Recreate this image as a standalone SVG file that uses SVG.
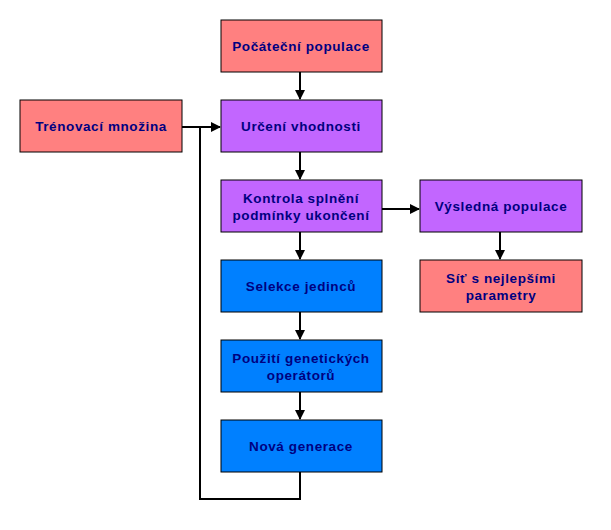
<svg xmlns="http://www.w3.org/2000/svg" width="611" height="530" viewBox="0 0 611 530">
<style>
.box{stroke:#000;stroke-width:1}
.pink{fill:#FF8080}
.purple{fill:#C266FF}
.blue{fill:#0080FF}
text{font-family:"Liberation Sans",Arial,sans-serif;font-weight:bold;font-size:13.5px;letter-spacing:0.6px;fill:#000080;text-anchor:middle}
.c{fill:none;stroke:#000;stroke-width:2}
</style>
<defs>
<marker id="ah" markerWidth="10" markerHeight="10" refX="9" refY="5" orient="auto" markerUnits="userSpaceOnUse">
<path d="M0,0 L10,5 L0,10 Z" fill="#000"/>
</marker>
</defs>
<rect width="611" height="530" fill="#fff"/>
<g id="connectors">
<line class="c" x1="300" y1="72" x2="300" y2="99" marker-end="url(#ah)"/>
<line class="c" x1="182" y1="127" x2="220" y2="127" marker-end="url(#ah)"/>
<line class="c" x1="300" y1="152" x2="300" y2="179" marker-end="url(#ah)"/>
<line class="c" x1="382" y1="209" x2="419" y2="209" marker-end="url(#ah)"/>
<line class="c" x1="300" y1="232" x2="300" y2="259" marker-end="url(#ah)"/>
<line class="c" x1="500" y1="232" x2="500" y2="259" marker-end="url(#ah)"/>
<line class="c" x1="300" y1="312" x2="300" y2="339" marker-end="url(#ah)"/>
<line class="c" x1="300" y1="392" x2="300" y2="419" marker-end="url(#ah)"/>
<polyline class="c" points="300,472 300,499 200,499 200,127"/>
</g>
<g id="pocatecni"><rect class="box pink" x="221" y="20" width="161" height="52"/><text x="301" y="51">Počáteční populace</text></g>
<g id="trenovaci"><rect class="box pink" x="20" y="100" width="162" height="52"/><text x="101" y="131">Trénovací množina</text></g>
<g id="urceni"><rect class="box purple" x="221" y="100" width="161" height="52"/><text x="301" y="131">Určení vhodnosti</text></g>
<g id="kontrola"><rect class="box purple" x="221" y="180" width="161" height="52"/><text x="301" y="203">Kontrola splnění</text><text x="301" y="220">podmínky ukončení</text></g>
<g id="vysledna"><rect class="box purple" x="420" y="180" width="162" height="52"/><text x="501" y="211">Výsledná populace</text></g>
<g id="sit"><rect class="box pink" x="420" y="260" width="162" height="52"/><text x="501" y="283">Síť s nejlepšími</text><text x="501" y="300">parametry</text></g>
<g id="selekce"><rect class="box blue" x="221" y="260" width="161" height="52"/><text x="301" y="291">Selekce jedinců</text></g>
<g id="pouziti"><rect class="box blue" x="221" y="340" width="161" height="52"/><text x="301" y="363">Použití genetických</text><text x="301" y="380">operátorů</text></g>
<g id="nova"><rect class="box blue" x="221" y="420" width="161" height="52"/><text x="301" y="451">Nová generace</text></g>
</svg>
